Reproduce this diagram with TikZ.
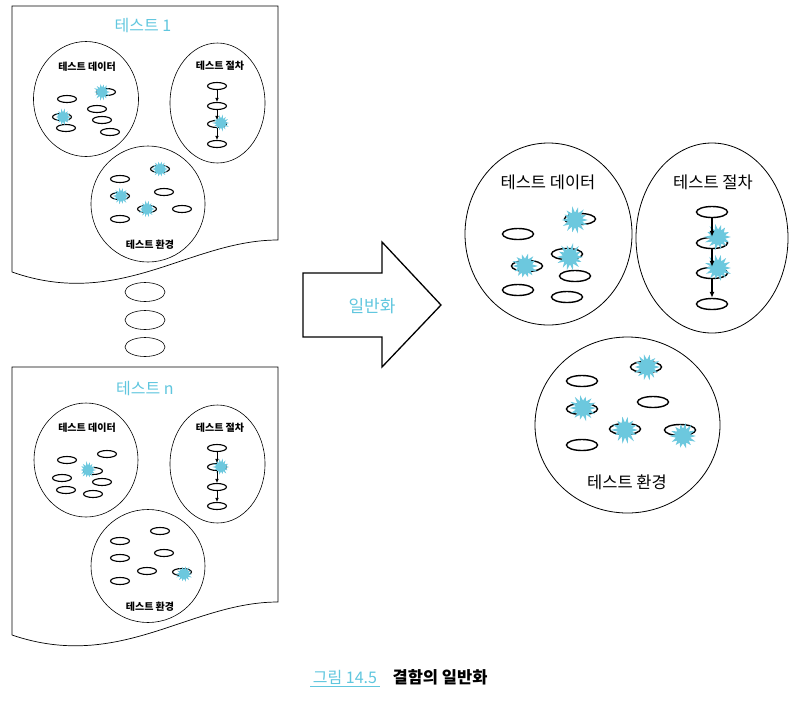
\documentclass[tikz,border=0pt]{standalone}
\usepackage{fontspec}
\setmainfont{Noto Sans CJK KR}
\usetikzlibrary{arrows.meta,shapes.geometric}
\definecolor{fault}{RGB}{108,200,222}
\definecolor{heading}{RGB}{96,198,222}
\tikzset{
  blob/.style={ellipse,draw,line width=0.6pt,inner sep=0},
  item/.style={ellipse,draw,line width=1.1pt,minimum width=19pt,minimum height=7pt,inner sep=0},
  bigitem/.style={ellipse,draw,line width=1.4pt,minimum width=31pt,minimum height=11pt,inner sep=0},
  splat/.pic={\fill[fault] (0:8) \foreach \a in {1,...,27} {-- (\a*12.857:{ifthenelse(mod(\a,2)==0,7+2*rnd,4.6)})} -- cycle;},
  small/.style={font=\fontsize{10}{12}\selectfont\bfseries},
  big/.style={font=\fontsize{16.5}{19}\selectfont},
}
\begin{document}
\begin{tikzpicture}[x=1pt,y=-1pt]
\pgfmathsetseed{14}
\useasboundingbox (0,0) rectangle (803,705);
\draw[line width=0.7pt] (12,272) -- (12,6) -- (278,6) -- (278,240) .. controls (190,240) and (120,310) .. (12,272);
\node[text=heading,font=\fontsize{16}{19}\selectfont] (title1) at (143,26) {테스트 1};
\node[blob,minimum width=105pt,minimum height=115pt] (data1) at (86,99) {};
\node[small] (datalbl1) at (87,67) {테스트 데이터};
\foreach \x/\y [count=\i] in {67/99,106/92,62/117,97/109,102/120,66/128,110/132}
  \node[item] (da\i) at (\x,\y) {};
\pic (sa1) at (102,92) {splat};
\pic (sa2) at (63,117) {splat};
\node[blob,minimum width=95pt,minimum height=120pt] (proc1) at (217.5,103) {};
\node[small] (proclbl1) at (220,66) {테스트 절차};
\foreach \y [count=\i] in {86,106,124,144}
  \node[item] (pa\i) at (217,\y) {};
\pic (sa3) at (221,123) {splat};
\foreach \i/\j in {1/2,2/3,3/4}
  \draw[line width=0.6pt,-{Latex[length=4pt,width=3.5pt]}] (pa\i) -- (pa\j);
\node[blob,minimum width=114pt,minimum height=116pt] (env1) at (148,204) {};
\node[small] (envlbl1) at (150,245) {테스트 환경};
\foreach \x/\y [count=\i] in {120/179,160/169,120/196,164/192,147/209,182/209,120/219}
  \node[item] (ea\i) at (\x,\y) {};
\pic (sa4) at (160,169) {splat};
\pic (sa5) at (121,196) {splat};
\pic (sa6) at (147,209) {splat};
\foreach \y [count=\i] in {292,320,347}
  \node[blob,minimum width=40pt,minimum height=19pt] (more\i) at (145,\y) {};
\draw[line width=0.7pt] (12,635) -- (12,367) -- (278,367) -- (278,602) .. controls (190,602) and (120,672) .. (12,635);
\node[text=heading,font=\fontsize{16}{19}\selectfont] (title2) at (145,388) {테스트 n};
\node[blob,minimum width=104pt,minimum height=114pt] (data2) at (86,460) {};
\node[small] (datalbl2) at (87,428) {테스트 데이터};
\foreach \x/\y [count=\i] in {67/460,107/454,93/471,62/478,102/482,66/490,93/494}
  \node[item] (db\i) at (\x,\y) {};
\pic (sb1) at (88,470) {splat};
\node[blob,minimum width=95pt,minimum height=118pt] (proc2) at (217.5,464) {};
\node[small] (proclbl2) at (220,428) {테스트 절차};
\foreach \y [count=\i] in {448,467,487,506}
  \node[item] (pb\i) at (217,\y) {};
\pic (sb2) at (221,467) {splat};
\foreach \i/\j in {1/2,2/3,3/4}
  \draw[line width=0.6pt,-{Latex[length=4pt,width=3.5pt]}] (pb\i) -- (pb\j);
\node[blob,minimum width=114pt,minimum height=113pt] (env2) at (148,566) {};
\node[small] (envlbl2) at (150,607) {테스트 환경};
\foreach \x/\y [count=\i] in {120/541,160/531,120/558,164/553,147/571,182/572,120/581}
  \node[item] (eb\i) at (\x,\y) {};
\pic (sb3) at (184,574) {splat};
\draw[line width=1.3pt,line join=miter] (303,273) -- (382,273) -- (382,242) -- (441,305) -- (382,367) -- (382,337) -- (303,337) -- cycle;
\node[text=heading,font=\fontsize{17}{20}\selectfont] (gen) at (372,306) {일반화};
\node[blob,line width=0.8pt,minimum width=167pt,minimum height=182pt] (data) at (548.5,234) {};
\node[big] (datalbl) at (548,182) {테스트 데이터};
\foreach \x/\y [count=\i] in {518/234,580/219,527/266,567/254,575/276,518/290,567/297}
  \node[bigitem] (dc\i) at (\x,\y) {};
\pic[scale=1.6] (sc1) at (575,220) {splat};
\pic[scale=1.6] (sc2) at (525,266) {splat};
\pic[scale=1.6] (sc3) at (570,257) {splat};
\node[blob,line width=0.8pt,minimum width=152pt,minimum height=190pt] (proc) at (712,238) {};
\node[big] (proclbl) at (713,182) {테스트 절차};
\foreach \y [count=\i] in {212,243,273,304}
  \node[bigitem] (pc\i) at (712,\y) {};
\pic[scale=1.6] (sc4) at (718,237) {splat};
\pic[scale=1.6] (sc5) at (718,268) {splat};
\foreach \i/\j in {1/2,2/3,3/4}
  \draw[line width=1.2pt,-{Latex[length=6pt,width=5pt]}] (pc\i) -- (pc\j);
\node[blob,line width=0.8pt,minimum width=185pt,minimum height=176pt] (env) at (627.5,425) {};
\node[big] (envlbl) at (627,482) {테스트 환경};
\foreach \x/\y [count=\i] in {582/381,646/367,582/409,653/402,625/429,680/430,582/445}
  \node[bigitem] (ec\i) at (\x,\y) {};
\pic[scale=1.6] (sc6) at (647,367) {splat};
\pic[scale=1.6] (sc7) at (583,408) {splat};
\pic[scale=1.6] (sc8) at (625,430) {splat};
\pic[scale=1.6] (sc9) at (683,436) {splat};
\node[text=heading,font=\fontsize{16}{19}\selectfont] (fig) at (345,677) {그림 14.5};
\draw[heading,line width=0.8pt] ([xshift=1pt,yshift=-3pt]fig.base west) -- ([xshift=-1pt,yshift=-3pt]fig.base east);
\node[font=\fontsize{16.5}{19}\selectfont\bfseries] (cap) at (440,677) {결함의 일반화};
\end{tikzpicture}
\end{document}
